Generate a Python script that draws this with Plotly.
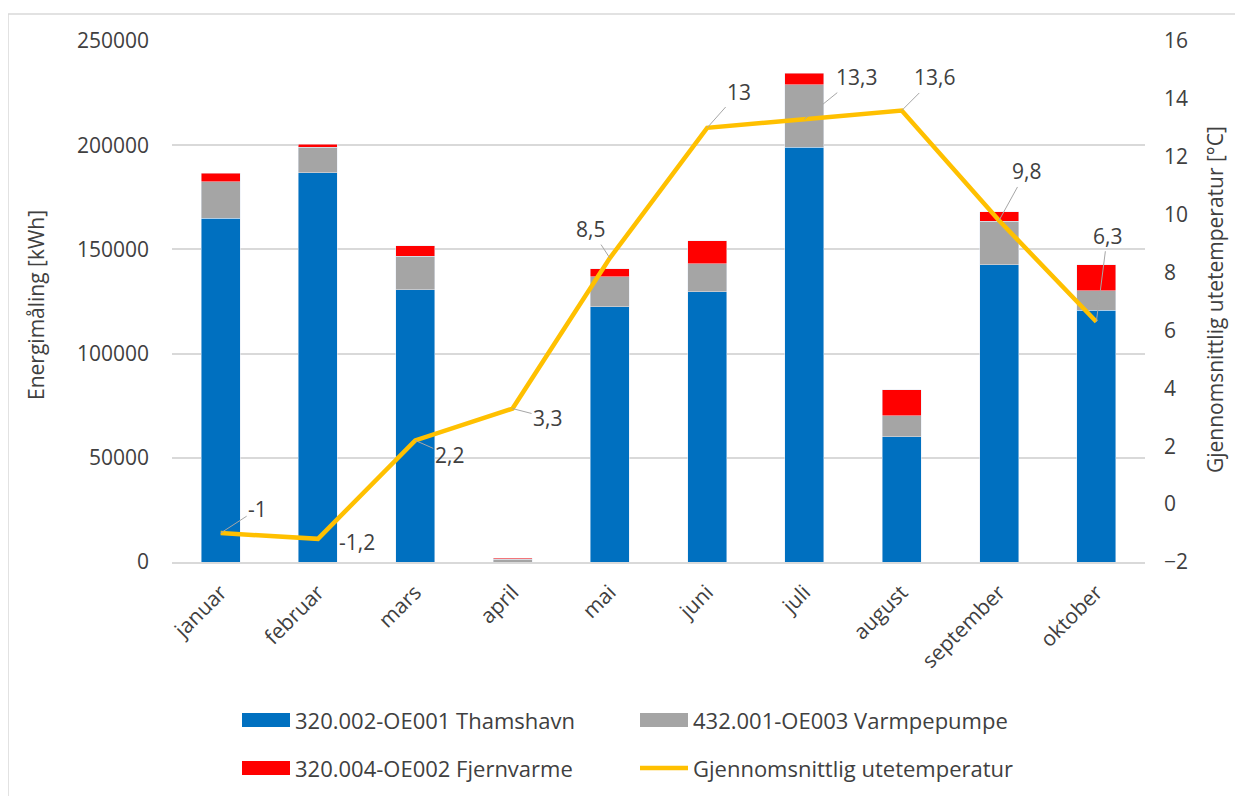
import plotly.graph_objects as go

months = ["januar", "februar", "mars", "april", "mai", "juni", "juli", "august", "september", "oktober"]
thamshavn = [165000, 186900, 130700, 0, 122400, 129600, 199000, 60000, 142600, 120800]
varmepumpe = [17500, 12000, 15900, 1300, 14400, 13400, 30000, 10100, 20800, 9300]
fjernvarme = [4100, 1600, 5100, 600, 3800, 11100, 5600, 12500, 4700, 12500]
temperatur = [-1, -1.2, 2.2, 3.3, 8.5, 13, 13.3, 13.6, 9.8, 6.3]

name_blue = "320.002-OE001 Thamshavn"
name_gray = "432.001-OE003 Varmpepumpe"
name_red = "320.004-OE002 Fjernvarme"
name_line = "Gjennomsnittlig utetemperatur"

# label offsets (pixels) for temperature data labels
label_offsets = [(37, -24), (39, 3), (34, 15), (35, 9), (-19, -29),
                 (32, -36), (52, -42), (33, -33), (27, -49), (11, -86)]
leader_visible = [True, False, True, True, True, True, True, True, True, True]

# page body has an 8px margin: work in reference coordinates and shift
OFF = 8
W, H = 1243 - OFF, 796 - OFF
L, R, T, B = 172 - OFF, 1145 - OFF, 41 - OFF, 562 - OFF
FONT = "Open Sans"
FS = 21
TXT = "#404040"

def px(x):
    return (x - OFF - L) / (R - L)

def py(y):
    return (B - (y - OFF)) / (B - T)

fig = go.Figure()
fig.add_trace(go.Bar(x=months, y=thamshavn, name=name_blue, marker_color="#0070C0", showlegend=False))
fig.add_trace(go.Bar(x=months, y=varmepumpe, name=name_gray, marker_color="#A5A5A5", showlegend=False))
fig.add_trace(go.Bar(x=months, y=fjernvarme, name=name_red, marker_color="#FF0000", showlegend=False))
fig.add_trace(go.Scatter(x=months, y=temperatur, name=name_line, mode="lines",
                         line=dict(color="#FFC000", width=4.5), yaxis="y2", showlegend=False))

annotations = []
for m, t, (ox, oy), vis in zip(months, temperatur, label_offsets, leader_visible):
    txt = ("%g" % t).replace(".", ",")
    annotations.append(dict(x=m, y=t, xref="x", yref="y2", text=txt, showarrow=True,
                            ax=ox, ay=oy, arrowhead=0, arrowwidth=1, standoff=0,
                            arrowcolor="#A6A6A6" if vis else "rgba(0,0,0,0)",
                            font=dict(family=FONT, size=FS, color=TXT)))

# axis titles
annotations.append(dict(x=px(36), y=py(305), xref="paper", yref="paper", text="Energimåling [kWh]",
                        xanchor="center", yanchor="middle",
                        textangle=-90, showarrow=False, font=dict(family=FONT, size=FS, color=TXT)))
annotations.append(dict(x=px(1215), y=py(300), xref="paper", yref="paper",
                        text="Gjennomsnittlig utetemperatur [°C]", xanchor="center", yanchor="middle",
                        textangle=-90, showarrow=False, font=dict(family=FONT, size=FS, color=TXT)))

shapes = []
# chart border
shapes.append(dict(type="rect", xref="paper", yref="paper", x0=px(8), x1=px(1260), y0=py(14), y1=py(810),
                   line=dict(color="#D9D9D9", width=1.5), fillcolor="rgba(0,0,0,0)", layer="below"))

# manual legend
legend_items = [
    (name_blue, "#0070C0", "rect", 242, 720),
    (name_gray, "#A5A5A5", "rect", 640, 720),
    (name_red, "#FF0000", "rect", 242, 768),
    (name_line, "#FFC000", "line", 640, 768),
]
for name, color, kind, x0, yc in legend_items:
    if kind == "rect":
        shapes.append(dict(type="rect", xref="paper", yref="paper", x0=px(x0), x1=px(x0 + 48),
                           y0=py(yc + 7), y1=py(yc - 7), fillcolor=color, line=dict(width=0)))
    else:
        shapes.append(dict(type="line", xref="paper", yref="paper", x0=px(x0), x1=px(x0 + 48),
                           y0=py(yc), y1=py(yc), line=dict(color=color, width=4.5)))
    annotations.append(dict(x=px(x0 + 51), y=py(yc), xref="paper", yref="paper", text=name,
                            xanchor="left", yanchor="middle", showarrow=False,
                            font=dict(family=FONT, size=22, color=TXT)))

fig.update_layout(
    width=W, height=H,
    margin=dict(l=L, r=W - R, t=T, b=H - B, autoexpand=False),
    paper_bgcolor="white", plot_bgcolor="white",
    barmode="stack", bargap=0.6,
    showlegend=False,
    font=dict(family=FONT, size=FS, color=TXT),
    xaxis=dict(showline=True, linecolor="#D9D9D9", linewidth=1.5, tickangle=-45,
               ticks="", ticklabelstandoff=8, tickfont=dict(size=FS, color=TXT)),
    yaxis=dict(range=[0, 250000], dtick=50000, showgrid=True, gridcolor="#D9D9D9", gridwidth=1.5,
               zeroline=False, ticks="", tickformat="d", ticklabelstandoff=22,
               tickfont=dict(size=FS, color=TXT)),
    yaxis2=dict(range=[-2, 16], dtick=2, overlaying="y", side="right", showgrid=False,
                zeroline=False, ticks="", ticklabelstandoff=18, tickfont=dict(size=FS, color=TXT)),
    annotations=annotations,
    shapes=shapes,
)

fig.write_html("out.html")
